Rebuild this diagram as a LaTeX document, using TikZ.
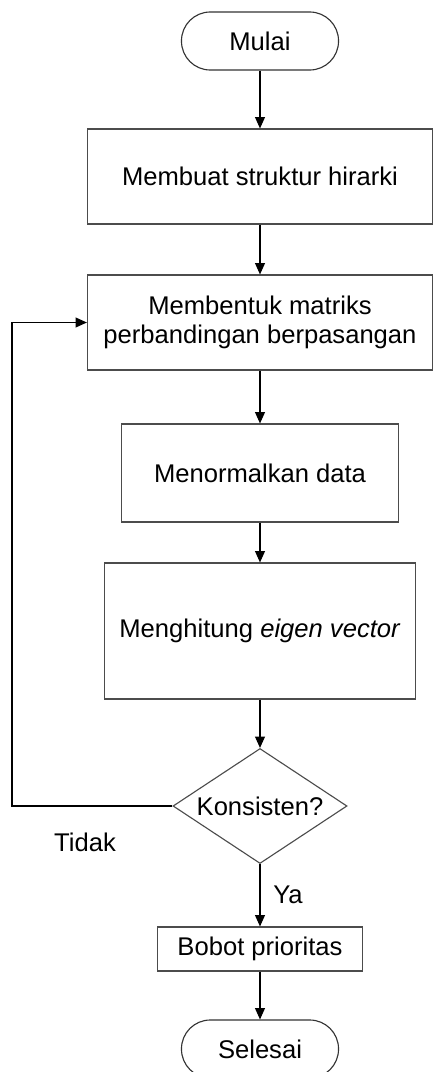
\documentclass[tikz,border=0pt]{standalone}
\usepackage{fontspec}
\setmainfont{Liberation Sans}
\usetikzlibrary{shapes.geometric,arrows.meta}
\begin{document}
\begin{tikzpicture}[x=0.025cm,y=-0.025cm,
    every node/.style={font=\fontsize{18.2}{21}\selectfont},
    proses/.style={draw=black!70,line width=0.8pt,rectangle,align=center,inner sep=0pt},
    terminal/.style={draw=black!80,line width=0.8pt,rectangle,rounded corners=0.72cm,
      minimum width=3.925cm,minimum height=1.45cm},
    keputusan/.style={draw=black!70,line width=0.8pt,diamond,aspect=1.5,inner sep=0pt,
      minimum width=4.35cm,minimum height=2.875cm},
    panah/.style={-{Triangle[length=8pt,width=7pt]},line width=0.8pt}]
  \useasboundingbox (0,0) rectangle (434,1072);
  \node[terminal] (mulai) at (260,41) {Mulai};
  \node[proses,minimum width=8.625cm,minimum height=2.375cm] (membuat) at (260,176.5)
    {Membuat struktur hirarki};
  \node[proses,minimum width=8.625cm,minimum height=2.375cm] (membentuk) at (260,322.5)
    {Membentuk matriks\\perbandingan berpasangan};
  \node[proses,minimum width=6.925cm,minimum height=2.45cm] (normal) at (260,473)
    {Menormalkan data};
  \node[proses,minimum width=7.775cm,minimum height=3.4cm] (eigen) at (260,631)
    {Menghitung \textit{eigen vector}};
  \node[keputusan] (konsisten) at (260,806) {Konsisten?};
  \node[proses,minimum width=5.125cm,minimum height=1.1cm] (bobot) at (260,949)
    {Bobot prioritas};
  \node[terminal] (selesai) at (260,1049) {Selesai};
  \node (tidak) at (85,842) {Tidak};
  \node (ya) at (288,895) {Ya};
  \coordinate (balik) at (12,806);
  \begin{scope}[panah]
    \draw (mulai) to (membuat);
    \draw (membuat) to (membentuk);
    \draw (membentuk) to (normal);
    \draw (normal) to (eigen);
    \draw (eigen) to (konsisten);
    \draw (konsisten) to (bobot);
    \draw (bobot) to (selesai);
    \draw (konsisten.west) -- (balik) |- (membentuk.west);
  \end{scope}
\end{tikzpicture}
\end{document}
